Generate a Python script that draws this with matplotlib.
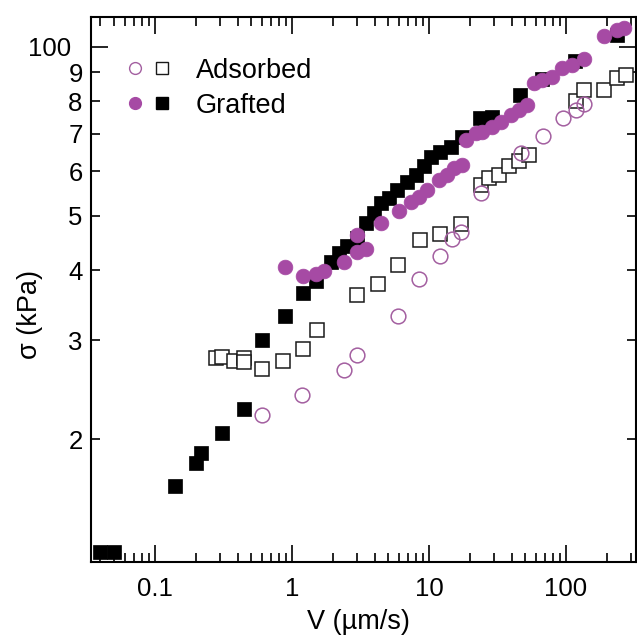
import matplotlib
matplotlib.use("Agg")
import matplotlib.pyplot as plt
from matplotlib.ticker import FixedLocator, FixedFormatter
from matplotlib.legend_handler import HandlerTuple
from matplotlib.lines import Line2D

# Grafted layer: squares (black) and circles (purple)
grafted_sq_v = [0.040, 0.050, 0.139, 0.198, 0.218, 0.31, 0.446, 0.601, 0.89, 1.20,
                1.50, 1.92, 2.20, 2.53, 3.0, 3.45, 3.97, 4.44, 5.1, 5.87, 6.95, 8.0,
                9.2, 10.3, 12.0, 14.4, 17.5, 23.5, 29, 46, 67, 117, 237]
grafted_sq_s = [1.26, 1.26, 1.65, 1.81, 1.89, 2.05, 2.26, 3.0, 3.31, 3.64,
                3.82, 4.14, 4.29, 4.41, 4.56, 4.85, 5.05, 5.26, 5.37, 5.56, 5.75, 5.91,
                6.12, 6.37, 6.50, 6.64, 6.90, 7.48, 7.51, 8.22, 8.75, 9.45, 10.5]

grafted_ci_v = [0.89, 1.20, 1.49, 1.71, 2.40, 3.0, 3.45, 3.0, 4.44, 6.04, 7.35, 8.45,
                9.7, 11.8, 13.6, 15.2, 17.5, 18.5, 21.9, 24.5, 29, 33.4, 39.5, 45.4,
                52.2, 58.4, 67, 79.5, 94, 111, 135, 189, 237, 265]
grafted_ci_s = [4.06, 3.91, 3.93, 3.98, 4.14, 4.31, 4.37, 4.62, 4.85, 5.09, 5.30, 5.41,
                5.56, 5.79, 5.91, 6.08, 6.16, 6.83, 7.01, 7.05, 7.2, 7.35, 7.55, 7.71,
                7.87, 8.61, 8.73, 8.85, 9.15, 9.28, 9.53, 10.45, 10.7, 10.8]

# Adsorbed layer: open squares (black) and open circles (purple)
adsorbed_sq_v = [0.277, 0.31, 0.377, 0.446, 0.446, 0.601, 0.86, 1.20, 1.51, 3.0, 4.27,
                 5.94, 8.55, 12.0, 17.0, 23.8, 27.4, 32.4, 38.4, 45.4, 53.7, 118, 135,
                 189, 237, 273]
adsorbed_sq_s = [2.79, 2.80, 2.75, 2.79, 2.74, 2.67, 2.75, 2.90, 3.13, 3.61, 3.78,
                 4.09, 4.53, 4.64, 4.83, 5.68, 5.83, 5.91, 6.12, 6.25, 6.42, 7.99, 8.37,
                 8.37, 8.79, 8.91]

adsorbed_ci_v = [0.607, 1.19, 2.40, 3.0, 5.94, 8.45, 12.0, 14.8, 17.0, 23.8, 46.7, 68,
                 95.6, 118, 135]
adsorbed_ci_s = [2.21, 2.40, 2.66, 2.82, 3.31, 3.85, 4.24, 4.54, 4.67, 5.49, 6.46, 6.93,
                 7.47, 7.73, 7.91]

# Axis ticks and labels
xtick_vals = [0.1, 1, 10, 100]
xtick_labels = ["0.1", "1", "10", "100"]
ytick_major = [10]
ytick_major_labels = ["100"]
ytick_minor = [2, 3, 4, 5, 6, 7, 8, 9]
ytick_minor_labels = ["2", "3", "4", "5", "6", "7", "8", "9"]
xminor = [m * d for d in (0.01, 0.1, 1, 10, 100) for m in range(2, 10)]

legend_labels = ["Adsorbed", "Grafted"]

PURPLE = "#A64AA4"
PURPLE_EDGE = "#A35FA0"
TICK_FS = 18.5
LABEL_FS = 19.5

plt.rcParams["font.family"] = ["Liberation Sans", "DejaVu Sans"]

fig = plt.figure(figsize=(6.37, 6.37), dpi=100)
W = H = 637.0
ax = fig.add_axes([91 / W, 1 - 562 / H, 545 / W, 545 / H])
ax.set_xscale("log")
ax.set_yscale("log")

h_as, = ax.plot(adsorbed_sq_v, adsorbed_sq_s, ls="none", marker="s", ms=9.4,
                mfc="white", mec="#1a1a1a", mew=1.1, zorder=3)
h_ac, = ax.plot(adsorbed_ci_v, adsorbed_ci_s, ls="none", marker="o", ms=10.6,
                mfc="none", mec=PURPLE_EDGE, mew=1.1, zorder=4)
h_gs, = ax.plot(grafted_sq_v, grafted_sq_s, ls="none", marker="s", ms=9.8,
                mfc="black", mec="black", mew=0.5, zorder=5)
h_gc, = ax.plot(grafted_ci_v, grafted_ci_s, ls="none", marker="o", ms=10.6,
                mfc=PURPLE, mec=PURPLE, mew=0.5, zorder=6)

ax.set_xlim(0.0341, 324)
ax.set_ylim(1.208, 11.3)

ax.xaxis.set_major_locator(FixedLocator(xtick_vals))
ax.xaxis.set_major_formatter(FixedFormatter(xtick_labels))
ax.xaxis.set_minor_locator(FixedLocator(xminor))
ax.xaxis.set_minor_formatter(FixedFormatter([""] * len(xminor)))

ax.yaxis.set_major_locator(FixedLocator(ytick_major))
ax.yaxis.set_major_formatter(FixedFormatter(ytick_major_labels))
ax.yaxis.set_minor_locator(FixedLocator(ytick_minor))
ax.yaxis.set_minor_formatter(FixedFormatter(ytick_minor_labels))

ax.tick_params(which="both", direction="in", top=True, right=True,
               labelsize=TICK_FS, width=1.2, colors="black")
ax.tick_params(which="major", length=12)
ax.tick_params(which="minor", length=6.5)
ax.tick_params(axis="y", which="minor", pad=6)
ax.tick_params(axis="y", which="major", pad=14.5)
ax.tick_params(axis="x", which="both", pad=10.5)
for sp in ax.spines.values():
    sp.set_linewidth(1.5)

ax.set_xlabel("V (µm/s)", fontsize=LABEL_FS)
ax.set_ylabel("σ (kPa)", fontsize=LABEL_FS)
ax.yaxis.set_label_coords(-0.088, 0.455)
ax.xaxis.set_label_coords(0.49, -0.086)

# Legend: open markers for adsorbed, filled markers for grafted
lh_ac = Line2D([], [], ls="none", marker="o", ms=8.5, mfc="none", mec=PURPLE_EDGE, mew=1.0)
lh_as = Line2D([], [], ls="none", marker="s", ms=8.0, mfc="white", mec="#1a1a1a", mew=1.0)
lh_gc = Line2D([], [], ls="none", marker="o", ms=8.5, mfc=PURPLE, mec=PURPLE)
lh_gs = Line2D([], [], ls="none", marker="s", ms=8.0, mfc="black", mec="black")
hl = 54.0 / (LABEL_FS * 100 / 72)
htp = 20.5 / (LABEL_FS * 100 / 72)
ax.legend([(lh_ac, lh_as), (lh_gc, lh_gs)], legend_labels,
          handler_map={tuple: HandlerTuple(ndivide=None, pad=0)},
          loc="upper left", bbox_to_anchor=(0.056, 0.925), borderaxespad=0,
          borderpad=0, frameon=False, fontsize=LABEL_FS, handlelength=hl,
          handletextpad=htp, labelspacing=0.33, numpoints=1)

fig.savefig("out.png", dpi=100)
